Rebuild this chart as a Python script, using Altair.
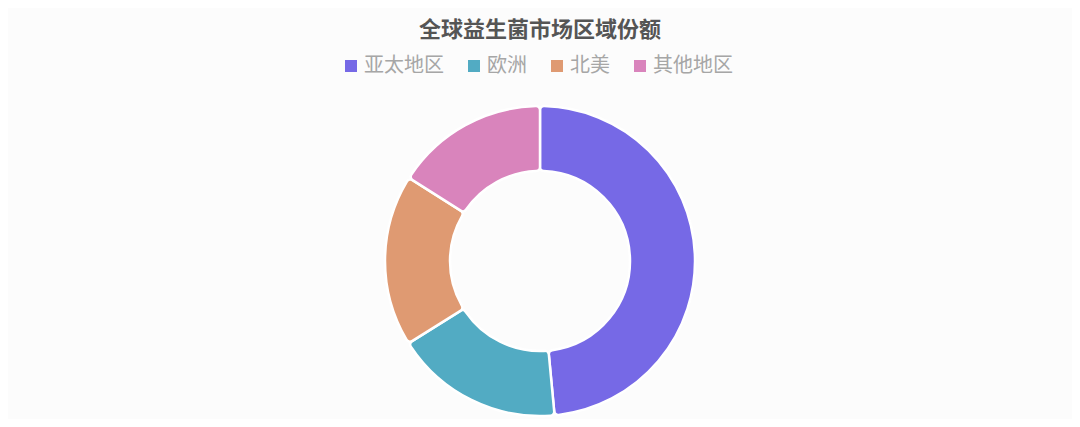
import altair as alt
import pandas as pd

regions = ["亚太地区", "欧洲", "北美", "其他地区"]
shares = [48.5, 17.6, 17.9, 16.0]
colors = ["#7669E6", "#52ABC3", "#DF9A72", "#D984BC"]
title_text = "全球益生菌市场区域份额"

df = pd.DataFrame({"region": regions, "share": shares, "order": list(range(len(regions)))})

FONT = "Noto Sans CJK SC"

donut = alt.Chart(df).mark_arc(
    outerRadius=155, innerRadius=90, cornerRadius=4,
    stroke="white", strokeWidth=2.5
).encode(
    theta=alt.Theta("share:Q", stack=True),
    order=alt.Order("order:Q"),
    color=alt.Color(
        "region:N",
        sort=regions,
        scale=alt.Scale(domain=regions, range=colors),
        legend=alt.Legend(
            title=None, orient="none", direction="horizontal", columns=4,
            legendX=333, legendY=48,
            symbolType="square", symbolSize=144, symbolStrokeWidth=0,
            labelFont=FONT, labelFontSize=20, labelColor="#A6A6A6",
            labelOffset=3, columnPadding=20, padding=0,
        ),
    ),
    x=alt.value(532),
    y=alt.value(253),
)

title = alt.Chart(pd.DataFrame({"t": [title_text]})).mark_text(
    font=FONT, fontSize=22, fontWeight="bold", color="#555555",
    baseline="middle", align="center"
).encode(
    text="t:N", x=alt.value(532), y=alt.value(22)
)

chart = alt.layer(donut, title).properties(
    width=1064, height=411, padding=0, background="#FCFCFC",
    autosize=alt.AutoSizeParams(type="none")
).configure_view(stroke=None)

chart.save("out.html", embed_options={"renderer": "svg", "actions": False})
